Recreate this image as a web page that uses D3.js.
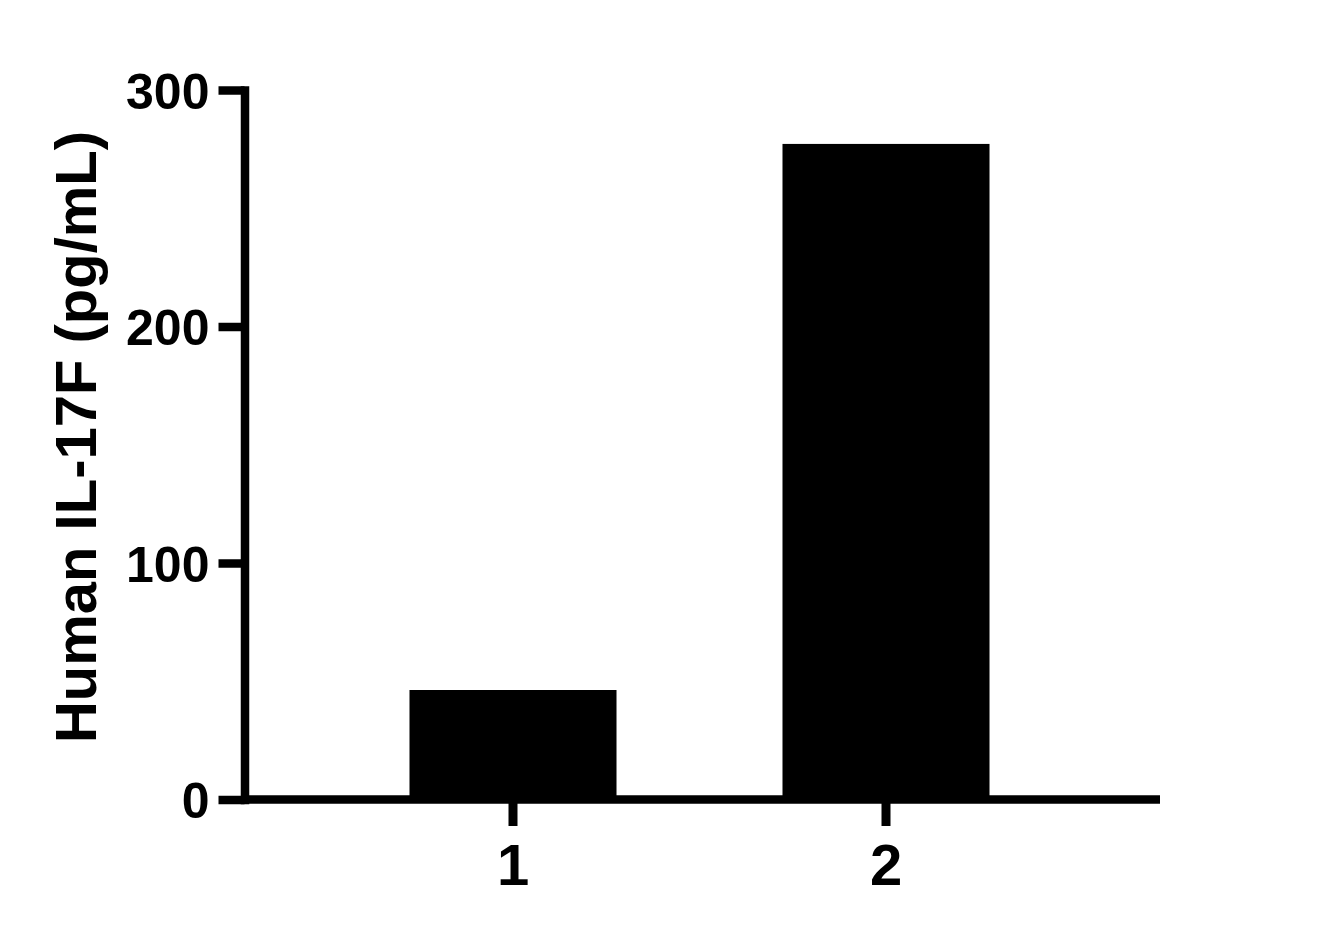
<!DOCTYPE html>
<html>
<head>
<meta charset="utf-8">
<script src="https://cdn.jsdelivr.net/npm/d3@7"></script>
<style>
  body { margin: 0; background: #fff; }
  svg { display: block; }
  .axis text { font-family: "Liberation Sans", Arial, sans-serif; font-weight: bold; fill: #000; }
</style>
</head>
<body>
<div class="chart"></div>
<script>
var categories = ['1', '2'];
var values = [46.3, 277.2];
var yTicks = [0, 100, 200, 300];
var yTitle = 'Human IL-17F (pg/mL)';

var width = 1336, height = 939;
var axisX = 244.5, axisY = 799.5, axisRight = 1160;

var svg = d3.select('.chart')
  .append('svg')
    .attr('width', width)
    .attr('height', height);

var y = d3.scaleLinear()
  .domain([0, 300])
  .range([axisY, 90]);

var x = d3.scaleBand()
  .domain(categories)
  .range([326.5, 1072.5])
  .paddingInner(0.445)
  .paddingOuter(0.2225);

// bars
svg.selectAll('rect.bar')
  .data(values)
  .enter()
  .append('rect')
    .attr('class', 'bar')
    .attr('x', function(d, i) { return x(categories[i]); })
    .attr('width', x.bandwidth())
    .attr('y', function(d) { return y(d); })
    .attr('height', function(d) { return axisY - y(d); })
    .attr('fill', '#000');

// y axis
var yAxis = svg.append('g')
  .attr('class', 'axis')
  .attr('transform', 'translate(' + axisX + ',0)')
  .call(d3.axisLeft(y)
    .tickValues(yTicks)
    .tickSize(26)
    .tickSizeOuter(0)
    .tickPadding(9));

yAxis.select('.domain')
  .attr('stroke', '#000')
  .attr('stroke-width', 8.5)
  .attr('stroke-linecap', 'square');
yAxis.selectAll('.tick line')
  .attr('stroke', '#000')
  .attr('stroke-width', 8.5);
yAxis.selectAll('.tick text')
  .attr('font-size', 50)
  .attr('dy', '0.36em');

// x axis
var xAxis = svg.append('g')
  .attr('class', 'axis')
  .attr('transform', 'translate(0,' + axisY + ')')
  .call(d3.axisBottom(x)
    .tickSize(26.5)
    .tickSizeOuter(0)
    .tickPadding(18));

xAxis.select('.domain').remove();
xAxis.append('line')
  .attr('x1', axisX)
  .attr('x2', axisRight)
  .attr('stroke', '#000')
  .attr('stroke-width', 8.5);
xAxis.selectAll('.tick line')
  .attr('stroke', '#000')
  .attr('stroke-width', 9);
xAxis.selectAll('.tick text')
  .attr('font-size', 58);

// y title
svg.append('text')
  .attr('class', 'axis')
  .attr('transform', 'translate(96,437) rotate(-90)')
  .attr('text-anchor', 'middle')
  .style('font-family', '"Liberation Sans", Arial, sans-serif')
  .style('font-weight', 'bold')
  .style('font-size', '58px')
  .text(yTitle);
</script>
</body>
</html>
